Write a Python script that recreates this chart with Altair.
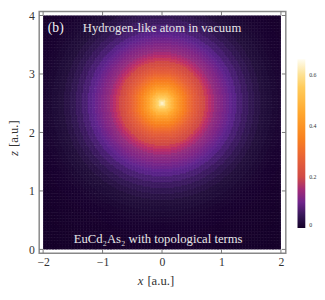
import numpy as np
import pandas as pd
import altair as alt

# radial profile of the density (distance from the nucleus in a.u.)
radius = [0.000, 0.025, 0.050, 0.075, 0.100, 0.125, 0.150, 0.175, 0.200, 0.225,
          0.250, 0.275, 0.300, 0.325, 0.350, 0.375, 0.400, 0.425, 0.450, 0.475,
          0.500, 0.525, 0.550, 0.575, 0.600, 0.650, 0.700, 0.750, 0.800, 0.850,
          0.900, 0.950, 1.000, 1.050, 1.100, 1.150, 1.200, 1.300, 1.400, 1.500,
          1.600, 1.700, 1.800, 1.900, 2.000, 2.100, 2.200, 2.300, 2.400, 2.500,
          2.600, 2.700, 2.800, 2.900, 3.000, 3.100, 3.200, 3.300]
density = [0.660, 0.632, 0.605, 0.580, 0.556, 0.533, 0.511, 0.490, 0.470, 0.450,
           0.432, 0.414, 0.397, 0.381, 0.365, 0.350, 0.335, 0.321, 0.308, 0.295,
           0.283, 0.271, 0.260, 0.249, 0.238, 0.218, 0.200, 0.183, 0.167, 0.153,
           0.140, 0.128, 0.117, 0.106, 0.097, 0.088, 0.080, 0.066, 0.054, 0.044,
           0.036, 0.029, 0.024, 0.019, 0.016, 0.013, 0.010, 0.0083, 0.0067, 0.0054,
           0.0044, 0.0035, 0.0028, 0.0023, 0.0018, 0.0015, 0.0012, 0.0010]
nucleus_x = 0.0
nucleus_z = 2.5

x_ticks = [-2, -1, 0, 1, 2]
z_ticks = [0, 1, 2, 3, 4]
cbar_ticks = [0, 0.2, 0.4, 0.6]

label_b = "(b)"
label_top = "Hydrogen-like atom in vacuum"
label_bottom = "EuCd\u2082As\u2082 with topological terms"
x_symbol, z_symbol, unit = "x", "z", "[a.u.]"

# grid of cells, each taking the nearest profile sample for its distance
step = 0.025
edges_x = np.round(np.arange(-2.0, 2.0 + step / 2, step), 4)
edges_z = np.round(np.arange(0.0, 4.0 + step / 2, step), 4)
X0, Z0 = np.meshgrid(edges_x[:-1], edges_z[:-1])
XC, ZC = X0 + step / 2, Z0 + step / 2
R = np.hypot(XC - nucleus_x, ZC - nucleus_z)
rad = np.array(radius)
idx = np.abs(R.ravel()[:, None] - rad[None, :]).argmin(axis=1)
grid = pd.DataFrame({
    "x": np.round(X0.ravel(), 3),
    "z": np.round(Z0.ravel(), 3),
    "v": np.array(density)[idx],
})

FONT = "Liberation Serif"
W, H = 253, 248

xs = alt.Scale(domain=[-2.066, 2.082], nice=False, zero=False)
ys = alt.Scale(domain=[-0.067, 4.067], nice=False, zero=False)
c_dom = [0, 0.03, 0.085, 0.14, 0.2, 0.34, 0.45, 0.57, 0.66]
c_rng = ["#000000", "#23103c", "#5e248f", "#922d7e", "#d04a45",
         "#f77d1e", "#ffa72e", "#ffd265", "#fffcf0"]
cs = alt.Scale(domain=c_dom, range=c_rng)

x_axis = alt.Axis(values=x_ticks, title=None, ticks=False, domain=False, grid=False,
                  labelPadding=4, labelFontSize=12, labelFont=FONT, labelColor="#333")
y_axis = alt.Axis(values=z_ticks, title=None, ticks=False, domain=False, grid=False,
                  labelPadding=5, labelFontSize=12, labelFont=FONT, labelColor="#333")

X = alt.X("x:Q", scale=xs, axis=x_axis)
Y = alt.Y("z:Q", scale=ys, axis=y_axis)

heat = alt.Chart(grid).transform_calculate(
    x2=f"min(datum.x + {step} + 0.008, 2)",
    z2=f"min(datum.z + {step} + 0.008, 4)",
).mark_rect(strokeWidth=0).encode(
    x=X, x2="x2:Q", y=Y, y2="z2:Q",
    color=alt.Color("v:Q", scale=cs, legend=alt.Legend(
        type="gradient", title=None, orient="none", legendX=265, legendY=49,
        direction="vertical", gradientLength=173, gradientThickness=8,
        gradientStrokeWidth=0, values=cbar_ticks, format=".1~f", labelFontSize=6,
        labelFont=FONT, labelColor="#333", labelOffset=4)),
)

xt = pd.DataFrame({"x": x_ticks})
zt = pd.DataFrame({"z": z_ticks})
tick_style = dict(color="#777", strokeWidth=1)
ticks_bottom = alt.Chart(xt).mark_rule(**tick_style).encode(x=X, y=alt.value(H), y2=alt.value(H - 4))
ticks_top = alt.Chart(xt).mark_rule(**tick_style).encode(x=X, y=alt.value(0), y2=alt.value(4))
ticks_left = alt.Chart(zt).mark_rule(**tick_style).encode(y=Y, x=alt.value(0), x2=alt.value(4))
ticks_right = alt.Chart(zt).mark_rule(**tick_style).encode(y=Y, x=alt.value(W), x2=alt.value(W - 4))


def label(text, px, py, size, color, align="center", style="normal", angle=0):
    return alt.Chart(pd.DataFrame({"t": [text]})).mark_text(
        font=FONT, fontSize=size, color=color, align=align, baseline="middle",
        fontStyle=style, angle=angle,
    ).encode(text="t:N", x=alt.value(px), y=alt.value(py))


t_b = label(label_b, 17, 17, 14, "#f2f2f2")
t_top = label(label_top, 126, 17, 13, "#e6e6e6")
t_bot = label(label_bottom, 122, 233, 13, "#e6e6e6")
xt_sym = label(x_symbol, 107, 276, 13, "#333", align="right", style="italic")
xt_unit = label(unit, 111, 276, 13, "#333", align="left")
zt_sym = label(z_symbol, -26, 143, 13, "#333", align="right", style="italic", angle=270)
zt_unit = label(unit, -26, 139, 13, "#333", align="left", angle=270)

chart = alt.layer(heat, ticks_bottom, ticks_top, ticks_left, ticks_right, t_b, t_top, t_bot,
                  xt_sym, xt_unit, zt_sym, zt_unit).properties(
    width=W, height=H,
    autosize=alt.AutoSizeParams(type="none"),
    padding={"left": 32, "top": 0, "right": 32, "bottom": 36},
).configure_view(stroke="#888", strokeWidth=1.5)

chart.save("out.html", embed_options={"renderer": "svg", "actions": False})
